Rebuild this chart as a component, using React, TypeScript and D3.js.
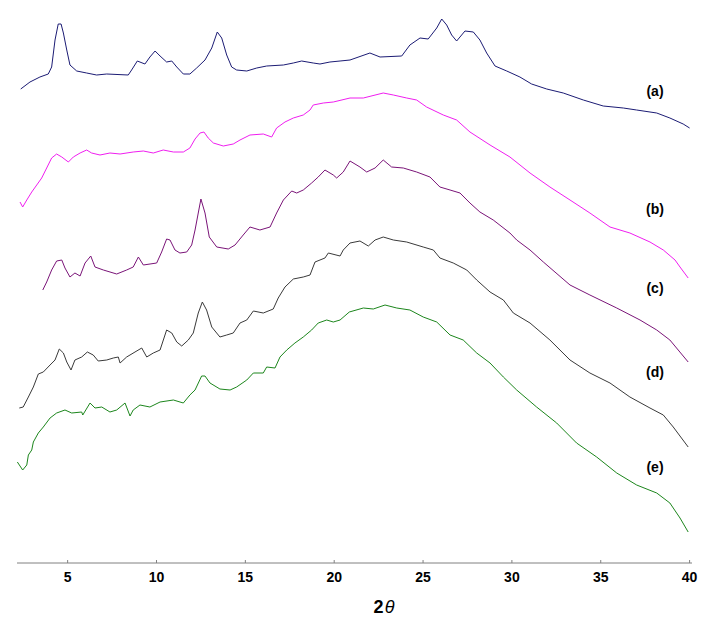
import React from "react";
import * as d3 from "d3";

// 2θ positions and intensities (a.u.)
const twoThetaA = [2.36,2.88,3.44,3.91,4.10,4.29,4.47,4.63,4.76,4.95,5.13,5.51,6.07,6.63,7.20,8.41,8.60,8.92,9.35,9.63,9.92,10.20,10.57,10.86,11.14,11.51,11.88,12.26,12.73,13.11,13.42,13.67,13.95,14.23,14.51,15.08,15.64,16.20,17.14,17.70,18.17,18.82,19.20,19.76,20.33,20.89,22.01,22.58,23.80,24.26,24.83,25.29,25.77,26.05,26.33,26.61,26.89,27.36,27.83,28.20,28.58,29.05,29.71,30.45,31.11,31.96,32.89,34.02,35.14,36.27,37.02,38.15,38.89,39.64,40.0];
const intensityA = [474,481,486,489,496,523,539,539,530,513,498,492,490,488,489,488,493,502,499,506,512,507,501,502,496,489,489,495,503,515,531,525,508,496,493,492,495,497,498,500,502,500,499,501,502,503,510,506,507,518,525,524,535,544,538,528,522,532,531,523,510,497,492,486,479,474,470,463,457,455,453,450,445,439,435];

const twoThetaB = [2.32,2.47,2.70,2.98,3.26,3.54,3.82,4.10,4.38,4.67,5.04,5.32,5.70,6.07,6.35,6.82,7.38,7.95,8.69,9.26,9.82,10.38,10.95,11.51,11.88,12.17,12.45,12.67,12.91,13.20,13.76,14.32,14.70,15.26,16.01,16.48,16.76,17.23,17.70,18.26,18.64,18.82,19.39,19.95,20.89,21.64,22.76,23.33,24.08,24.64,25.20,26.14,26.89,27.64,28.77,29.89,31.02,32.14,33.27,34.39,35.52,36.64,37.77,38.52,39.18,39.46,39.92];
const intensityB = [361,356,363,371,378,385,395,405,409,406,401,406,410,413,410,408,410,409,411,412,410,413,411,411,415,424,430,431,425,420,417,419,423,428,429,426,435,441,445,448,453,458,460,461,465,465,470,468,465,463,456,448,443,431,418,406,390,376,363,350,336,330,321,313,303,296,285];

const twoThetaC = [3.60,3.82,4.10,4.38,4.67,4.85,5.13,5.41,5.70,5.98,6.30,6.54,7.01,7.76,8.32,8.69,8.98,9.26,10.01,10.29,10.57,10.76,11.04,11.32,11.70,11.98,12.17,12.35,12.50,12.73,12.97,13.39,14.04,14.42,14.88,15.26,15.82,16.39,16.76,17.14,17.61,17.89,18.26,18.73,19.10,19.48,19.95,20.14,20.51,20.89,21.45,21.83,22.30,22.76,23.23,23.89,24.64,25.39,25.95,26.52,27.08,27.64,28.20,28.95,29.89,30.27,31.02,31.77,33.27,34.39,35.90,37.21,38.15,38.89,39.92];
const intensityC = [273,281,293,302,303,295,286,290,287,300,307,296,293,289,293,296,306,298,300,311,324,323,313,310,311,318,333,350,364,350,326,316,314,318,328,336,333,336,350,363,372,370,373,380,386,393,388,385,391,402,396,391,395,403,396,395,391,386,376,373,370,360,351,343,330,323,313,301,278,268,255,243,233,223,201];

const twoThetaD = [2.28,2.50,2.79,3.07,3.35,3.63,4.01,4.29,4.53,4.76,4.95,5.19,5.41,5.79,6.11,6.44,6.72,7.20,7.57,7.85,7.95,8.32,8.79,9.17,9.45,9.82,10.20,10.57,10.86,11.14,11.42,11.79,12.07,12.35,12.58,12.82,13.11,13.57,13.95,14.32,14.70,15.08,15.45,16.01,16.57,16.85,17.23,17.70,18.26,18.64,18.92,19.48,19.67,20.33,20.51,20.89,21.45,21.92,22.30,22.76,23.33,24.08,25.01,25.58,25.95,26.70,27.46,28.02,28.77,29.52,30.08,31.02,32.14,33.27,34.39,35.52,36.64,37.77,38.52,39.08,39.92];
const intensityD = [155,156,166,176,189,191,198,203,214,210,201,193,203,206,211,208,202,203,205,206,200,206,211,215,206,210,213,233,230,221,217,223,230,250,261,253,236,226,228,230,240,243,252,250,254,265,276,284,286,288,301,305,310,307,313,320,322,317,323,326,323,321,316,313,305,300,293,283,271,263,250,240,223,203,190,180,166,155,148,136,116];

const twoThetaE = [2.17,2.47,2.70,2.79,2.98,3.07,3.35,3.63,4.01,4.38,4.85,5.23,5.79,5.85,6.26,6.54,6.92,7.38,7.76,8.23,8.51,8.69,9.07,9.63,10.20,10.95,11.51,11.88,12.17,12.54,12.73,13.01,13.57,14.14,14.51,15.08,15.45,16.01,16.20,16.67,16.95,17.33,17.79,18.26,18.73,19.10,19.58,19.95,20.33,20.85,21.64,22.20,22.86,23.52,24.26,25.01,25.77,26.52,27.26,28.02,28.77,29.52,30.27,31.39,32.52,33.64,34.77,35.90,37.02,38.15,38.89,39.46,39.92];
const intensityE = [101,93,98,108,113,121,130,136,145,150,153,150,151,148,160,155,156,151,153,160,147,153,158,156,161,163,160,168,173,187,187,180,174,173,176,183,190,190,196,195,206,213,220,226,233,240,243,241,243,251,255,254,258,255,253,246,241,228,223,210,200,186,173,156,140,120,106,90,78,70,60,45,31];

const seriesLabels = ["(a)", "(b)", "(c)", "(d)", "(e)"];
const labelLevels = [472, 354, 275, 191, 96];
const xTicks = [5, 10, 15, 20, 25, 30, 35, 40];

const colors = ["#1b1b74", "#f01ef0", "#7a1478", "#3a3a3a", "#1c861c"];

export default function App() {
  const W = 702, H = 624;
  const x = d3.scaleLinear().domain([2.15, 40]).range([17, 689.6]);
  const y = d3.scaleLinear().domain([0, 560]).range([563, 3]);
  const series = [
    [twoThetaA, intensityA],
    [twoThetaB, intensityB],
    [twoThetaC, intensityC],
    [twoThetaD, intensityD],
    [twoThetaE, intensityE],
  ];
  const line = d3
    .line<[number, number]>()
    .x((d) => x(d[0]))
    .y((d) => y(d[1]));

  return (
    <svg
      width={W}
      height={H}
      style={{ position: "absolute", left: 0, top: 0, background: "#fff" }}
    >
      <rect x={0} y={0} width={W} height={H} fill="#fff" />
      {series.map(([xs, ys], i) => (
        <path
          key={i}
          d={line(xs.map((v, k) => [v, ys[k]] as [number, number])) || ""}
          fill="none"
          stroke={colors[i]}
          strokeWidth={1}
        />
      ))}
      {seriesLabels.map((t, i) => (
        <text
          key={t}
          x={655}
          y={y(labelLevels[i])}
          dy="0.35em"
          textAnchor="middle"
          fontFamily="Liberation Sans, Arial, sans-serif"
          fontWeight="bold"
          fontSize={14}
          fill="#000"
        >
          {t}
        </text>
      ))}
      <line x1={17} x2={692} y1={y(0)} y2={y(0)} stroke="#808080" strokeWidth={1} />
      {xTicks.map((t) => (
        <g key={t}>
          <line x1={x(t)} x2={x(t)} y1={y(0)} y2={y(0) - 3} stroke="#808080" strokeWidth={1} />
          <text
            x={x(t)}
            y={582}
            textAnchor="middle"
            fontFamily="Liberation Sans, Arial, sans-serif"
            fontWeight="bold"
            fontSize={14}
            fill="#000"
          >
            {t}
          </text>
        </g>
      ))}
      <text
        x={384}
        y={613}
        textAnchor="middle"
        fontFamily="Liberation Sans, Arial, sans-serif"
        fontSize={18}
        fill="#000"
      >
        <tspan fontWeight="bold">2</tspan>
        <tspan fontStyle="italic" dx={1}>θ</tspan>
      </text>
    </svg>
  );
}
